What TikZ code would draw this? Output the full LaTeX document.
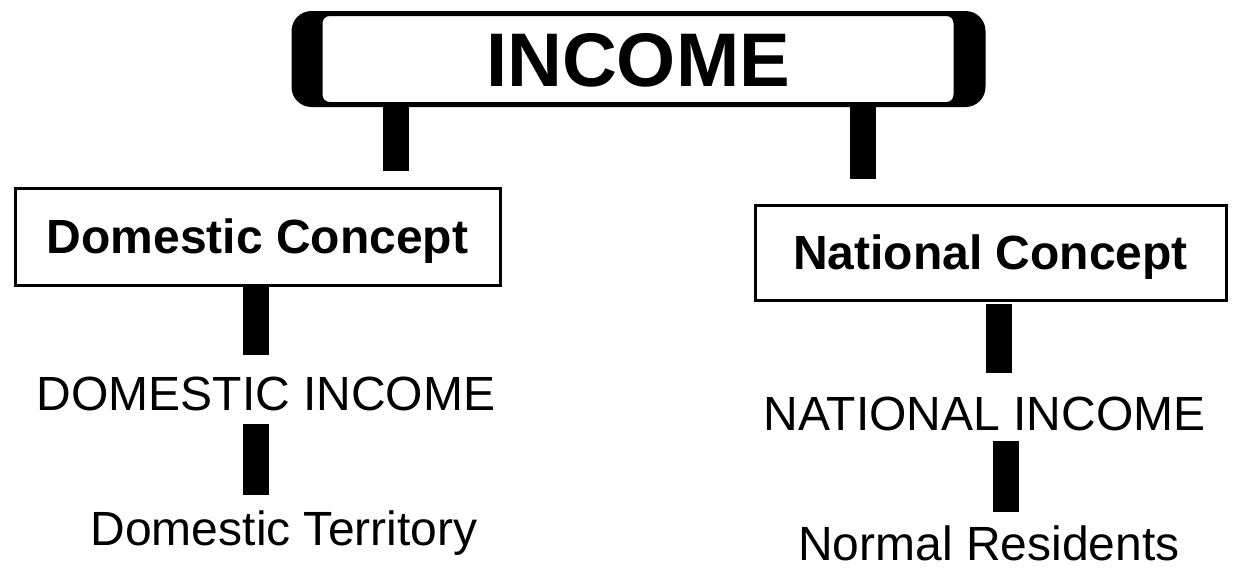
\documentclass[tikz,border=0pt]{standalone}
\usepackage{fontspec}
\setmainfont{Liberation Sans}
\usetikzlibrary{backgrounds}
\tikzset{
  topbox/.style={draw, line width=1pt, fill=white, rounded corners=4pt,
    minimum width=316.5pt, minimum height=44pt, inner sep=0pt,
    font=\bfseries\fontsize{38}{40}\selectfont, text height=27pt, text depth=0pt},
  conceptbox/.style={draw, line width=1.5pt, fill=white, inner sep=0pt,
    font=\bfseries\fontsize{24}{28}\selectfont, text height=17pt, text depth=0pt},
  lbl/.style={inner sep=0pt, anchor=base, font=\fontsize{24}{28}\selectfont,
    text height=17.5pt, text depth=3pt},
  bar/.style={line width=13pt, line cap=butt},
}
\begin{document}
\begin{tikzpicture}[x=0.5pt, y=-0.5pt]
    \useasboundingbox (0,0) rectangle (1241,568);
    %% top box with thick ends
    \node[topbox] (income) at (638,59) {INCOME};
    \begin{scope}[on background layer]
        \fill[rounded corners=10pt] ([xshift=-14.5pt,yshift=1.5pt]income.north west)
            rectangle ([xshift=15pt,yshift=-1.5pt]income.south east);
    \end{scope}
    %% the two concepts
    \node[conceptbox, minimum width=242.5pt, minimum height=48.5pt] (dom) at (257.5,236.5) {Domestic Concept};
    \node[conceptbox, minimum width=235.5pt, minimum height=47.5pt] (nat) at (990.5,252.5) {National Concept};
    %% labels below
    \node[lbl] (dinc) at (266,410) {DOMESTIC INCOME};
    \node[lbl] (dter) at (284,545) {Domestic Territory};
    \node[lbl] (ninc) at (984.5,430) {NATIONAL INCOME};
    \node[lbl] (nres) at (989,560) {Normal Residents};
    %% bars (offsets by trial and error)
    \draw[bar, shorten >=8pt] ([xshift=-121pt]income.south) -- ([xshift=69.25pt]dom.north);
    \draw[bar, shorten <=1pt, shorten >=12.5pt] ([xshift=112.5pt]income.south) -- ([xshift=-63.75pt]nat.north);
    \draw[bar, shorten >=10pt] ([xshift=-1pt]dom.south) -- ([xshift=-1pt]dom.south |- dinc.north);
    \draw[bar, shorten <=4pt, shorten >=7.5pt] ([xshift=-1pt]dom.south |- dinc.south) -- ([xshift=-1pt]dom.south |- dter.north);
    \draw[bar, shorten <=1pt, shorten >=11pt] ([xshift=4pt]nat.south) -- ([xshift=4pt]nat.south |- ninc.north);
    \draw[bar, shorten <=2.5pt, shorten >=6.5pt] ([xshift=7.5pt]nat.south |- ninc.south) -- ([xshift=7.5pt]nat.south |- nres.north);
\end{tikzpicture}
\end{document}
